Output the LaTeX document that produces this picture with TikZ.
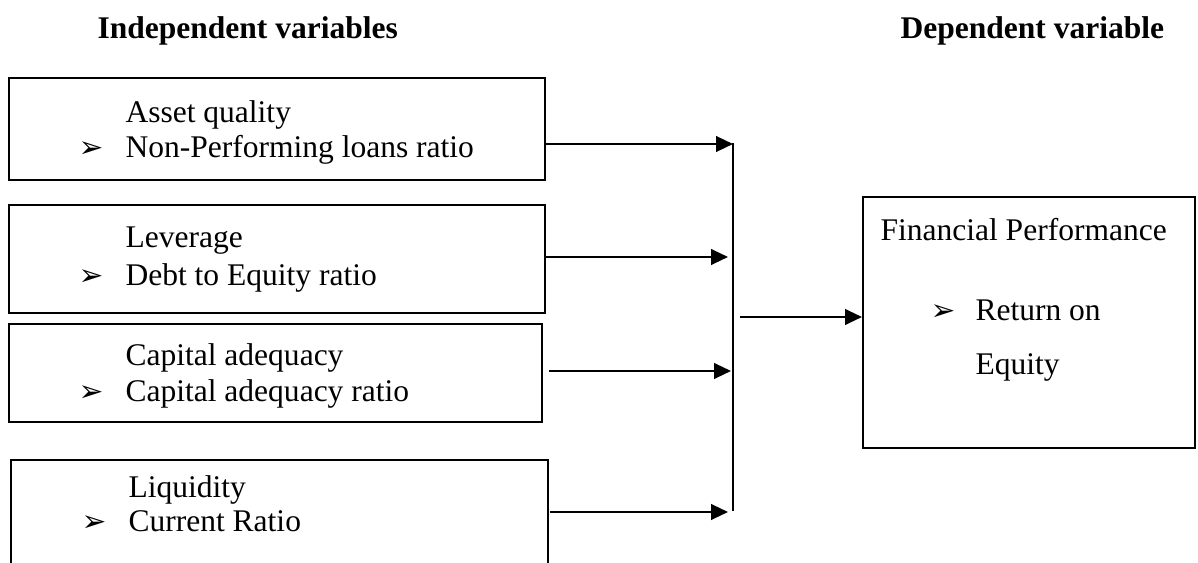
\documentclass[tikz,border=0pt]{standalone}
\usepackage{fontspec}
\setmainfont{Liberation Serif}
\newfontfamily\dingfont{DejaVu Sans Bold}
\usetikzlibrary{arrows.meta,fit}

\tikzset{
  box/.style={draw, line width=0.8pt, inner sep=0pt},
  txt/.style={anchor=base west, inner sep=0pt, font=\fontsize{12.2pt}{14pt}\selectfont},
  head/.style={anchor=base west, inner sep=0pt, font=\fontsize{12.2pt}{14pt}\selectfont\bfseries},
  bul/.style={anchor=base west, inner sep=0pt, font=\dingfont\fontsize{11.5pt}{13pt}\selectfont},
  arr/.style={line width=0.8pt, -{Triangle[length=6.5pt,width=6pt]}},
  bus/.style={line width=0.8pt}
}

\begin{document}
\begin{tikzpicture}[x=0.387pt,y=-0.387pt]
\clip (0,0) rectangle (1198,563);

% column headings
\node[head] (hin) at (97,39) {Independent variables};
\node[head] (hdep) at (900,39) {Dependent variable};

% independent variable boxes
\node[box, fit={(9,78) (545,180)}] (b1) {};
\node[txt] (t1a) at (125,123) {Asset quality};
\node[bul] (u1) at (78,158) {➢};
\node[txt] (t1b) at (125,158) {Non-Performing loans ratio};

\node[box, fit={(9,205) (545,313)}] (b2) {};
\node[txt] (t2a) at (125,248) {Leverage};
\node[bul] (u2) at (78,286) {➢};
\node[txt] (t2b) at (125,286) {Debt to Equity ratio};

\node[box, fit={(9,324) (542,422)}] (b3) {};
\node[txt] (t3a) at (125,366) {Capital adequacy};
\node[bul] (u3) at (78,402) {➢};
\node[txt] (t3b) at (125,402) {Capital adequacy ratio};

\node[box, fit={(11,460) (548,620)}] (b4) {};
\node[txt] (t4a) at (128,498) {Liquidity};
\node[bul] (u4) at (81,532) {➢};
\node[txt] (t4b) at (128,532) {Current Ratio};

% dependent variable box
\node[box, fit={(863,197) (1195,448)}] (fp) {};
\node[txt] (tf) at (880,241) {Financial Performance};
\node[bul] (uf) at (930,321) {➢};
\node[txt] (tfa) at (975,321) {Return on};
\node[txt] (tfb) at (975,375) {Equity};

% collecting bus and its junction points
\coordinate (jtop) at (733,143);
\coordinate (jbot) at (733,511);
\coordinate (j1) at (733,144);
\coordinate (j2) at (728,257);
\coordinate (j3) at (731,371);
\coordinate (j4) at (728,512);
\coordinate (s3) at (549,371);
\coordinate (s4) at (550,512);
\coordinate (s5) at (740,317);

\draw[bus] (jtop) -- (jbot);
\draw[arr] (b1.east |- j1) -- (j1);
\draw[arr] (b2.east |- j2) -- (j2);
\draw[arr] (s3) -- (j3);
\draw[arr] (s4) -- (j4);
\draw[arr] (s5) -- (fp.west |- s5);
\end{tikzpicture}
\end{document}
